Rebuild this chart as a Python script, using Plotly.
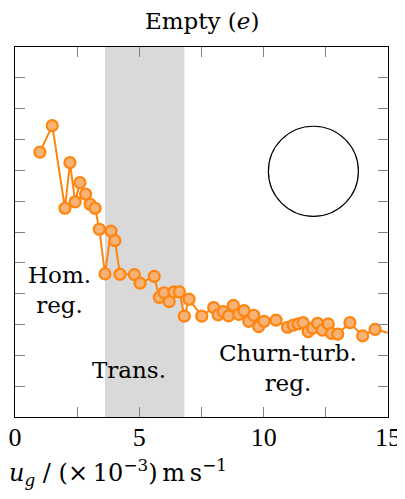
import plotly.graph_objects as go

ug = [1.0, 1.5, 2.01, 2.21, 2.42, 2.61, 2.84, 3.02, 3.22, 3.39, 3.62, 3.86, 4.02, 4.22,
      4.8, 5.03, 5.6, 5.8, 6.0, 6.2, 6.39, 6.61, 6.81, 7.0, 7.51, 7.99, 8.17, 8.38,
      8.59, 8.78, 9.0, 9.21, 9.4, 9.6, 9.8, 10.02, 10.5, 10.96, 11.19, 11.39, 11.59,
      11.79, 11.97, 12.17, 12.36, 12.6, 12.73, 12.98, 13.47, 13.98, 14.48, 15.01]
val = [8.59, 9.45, 6.77, 8.25, 6.98, 7.6, 7.23, 6.9, 6.77, 6.09, 4.64, 6.03, 5.72, 4.63,
       4.62, 4.34, 4.56, 3.88, 4.03, 3.74, 4.06, 4.06, 3.27, 3.82, 3.27, 3.55, 3.31, 3.42,
       3.28, 3.62, 3.33, 3.45, 3.1, 3.3, 2.93, 3.1, 3.14, 2.91, 2.98, 3.02, 3.06,
       2.77, 2.88, 3.04, 2.82, 3.02, 2.71, 2.69, 3.06, 2.63, 2.84, 2.73]

trans_start, trans_end = 3.62, 6.81
x_tickvals = [0, 2.5, 5, 7.5, 10, 12.5, 15]
x_ticktext = ["0", "", "5", "", "10", "", "15"]
y_tickvals = list(range(1, 12))

serif = "Liberation Serif, serif"
wide_serif = "DejaVu Serif, serif"

fig = go.Figure()
fig.add_trace(go.Scatter(
    x=ug, y=val, mode="lines+markers",
    line=dict(color="#ff8410", width=2),
    marker=dict(size=11, color="#f7b275",
                line=dict(color="#ff8410", width=2.2)),
    showlegend=False, cliponaxis=False,
))

fig.add_shape(type="rect", xref="x", yref="paper", x0=trans_start, x1=trans_end,
              y0=0, y1=1, fillcolor="#d9d9d9", line=dict(width=0), layer="below")
fig.add_shape(type="circle", xref="x", yref="y", x0=12.0 - 1.81, x1=12.0 + 1.81,
              y0=7.97 - 1.46, y1=7.97 + 1.46, line=dict(color="black", width=1.2))

ann_font = dict(family=wide_serif, size=23, color="black")
fig.add_annotation(x=1.8, y=4.12, text="Hom.<br>reg.", showarrow=False, font=ann_font)
fig.add_annotation(x=4.6, y=1.52, text="Trans.", showarrow=False, font=ann_font)
fig.add_annotation(x=10.98, y=1.59, text="Churn-turb.<br>reg.", showarrow=False, font=ann_font)

# title
fig.add_annotation(xref="paper", yref="paper", x=0.5, y=1.0, yshift=26,
                   xanchor="center", yanchor="middle", showarrow=False,
                   text="Empty (<i>e</i>)", font=dict(family=wide_serif, size=23, color="black"))
# x-axis label
fig.add_annotation(xref="paper", yref="paper", x=0, y=0, xshift=-8, yshift=-55,
                   xanchor="left", yanchor="middle", showarrow=False,
                   text="<i>u</i><sub><i>g</i></sub> / (\u00d7\u200910<sup>\u22123</sup>)\u2009m\u2009s<sup>\u22121</sup>",
                   font=dict(family=wide_serif, size=24, color="black"))

fig.update_layout(
    width=397, height=491,
    margin=dict(l=7, r=17, t=39, b=82, autoexpand=False),
    paper_bgcolor="white", plot_bgcolor="white",
    xaxis=dict(range=[0, 15], tickvals=x_tickvals, ticktext=x_ticktext,
               ticks="inside", ticklen=10, tickcolor="#808080", tickwidth=1,
               showline=True, linecolor="black", linewidth=1.3, mirror="ticks",
               showgrid=False, zeroline=False, automargin=False,
               ticklabelstandoff=-3,
               tickfont=dict(family=serif, size=26, color="black")),
    yaxis=dict(range=[0, 12], tickvals=y_tickvals, showticklabels=False,
               ticks="inside", ticklen=10, tickcolor="#808080", tickwidth=1,
               showline=True, linecolor="black", linewidth=1.3, mirror="ticks",
               showgrid=False, zeroline=False, automargin=False),
)

fig.write_html("out.html")
